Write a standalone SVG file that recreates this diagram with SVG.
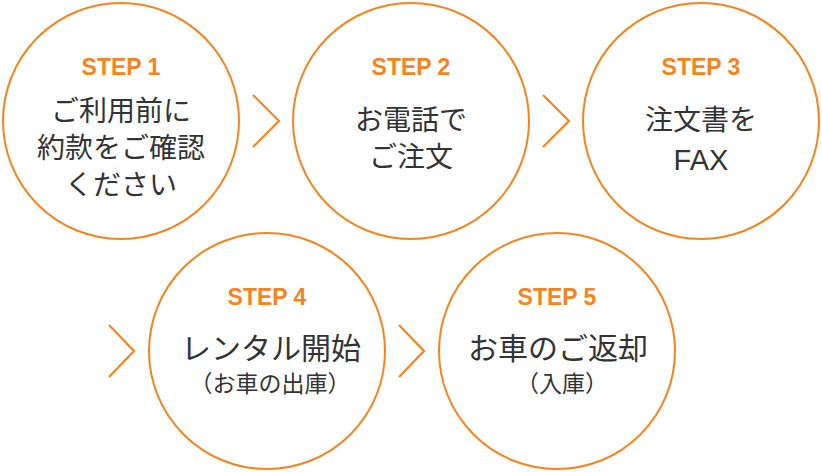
<svg xmlns="http://www.w3.org/2000/svg" width="822" height="472" viewBox="0 0 822 472">
<style>
.c{fill:#fff;stroke:#f5841f;stroke-width:2}
.ch{fill:none;stroke:#f5841f;stroke-width:2.2}
.s{font-family:"Liberation Sans",Arial,sans-serif;font-weight:bold;font-size:23px;fill:#f5841f;text-anchor:middle}
.t{font-family:"Liberation Sans","Noto Sans CJK JP",sans-serif;font-size:28px;fill:#333;text-anchor:middle}
.t2{font-family:"Liberation Sans","Noto Sans CJK JP",sans-serif;font-size:30px;fill:#333;text-anchor:middle}
.u{font-family:"Liberation Sans","Noto Sans CJK JP",sans-serif;font-size:23px;fill:#333;text-anchor:middle}
</style>
<rect width="822" height="472" fill="#fff"/>
<g id="connectors">
<polyline class="ch" points="253,95 279,121 253,147"/>
<polyline class="ch" points="543,95 569,121 543,147"/>
<polyline class="ch" points="109,325 134,351 109,377"/>
<polyline class="ch" points="399,325 424,351 399,377"/>
</g>
<g id="step1">
<circle class="c" cx="121" cy="121" r="118"/>
<text class="s" x="121" y="75">STEP 1</text>
<text class="t" x="121" y="121">ご利用前に</text>
<text class="t" x="121" y="158">約款をご確認</text>
<text class="t" x="121" y="195">ください</text>
</g>
<g id="step2">
<circle class="c" cx="411" cy="121" r="118"/>
<text class="s" x="411" y="75">STEP 2</text>
<text class="t" x="411" y="130">お電話で</text>
<text class="t" x="411" y="167">ご注文</text>
</g>
<g id="step3">
<circle class="c" cx="701" cy="121" r="118"/>
<text class="s" x="701" y="75">STEP 3</text>
<text class="t" x="701" y="130">注文書を</text>
<text class="t" x="701" y="170" style="font-size:29px">FAX</text>
</g>
<g id="step4">
<circle class="c" cx="267" cy="351" r="118"/>
<text class="s" x="267" y="305">STEP 4</text>
<text class="t2" x="271" y="359">レンタル開始</text>
<text class="u" x="270" y="392">（お車の出庫）</text>
</g>
<g id="step5">
<circle class="c" cx="557" cy="351" r="118"/>
<text class="s" x="557" y="305">STEP 5</text>
<text class="t2" x="558" y="359">お車のご返却</text>
<text class="u" x="562" y="392">（入庫）</text>
</g>
</svg>
